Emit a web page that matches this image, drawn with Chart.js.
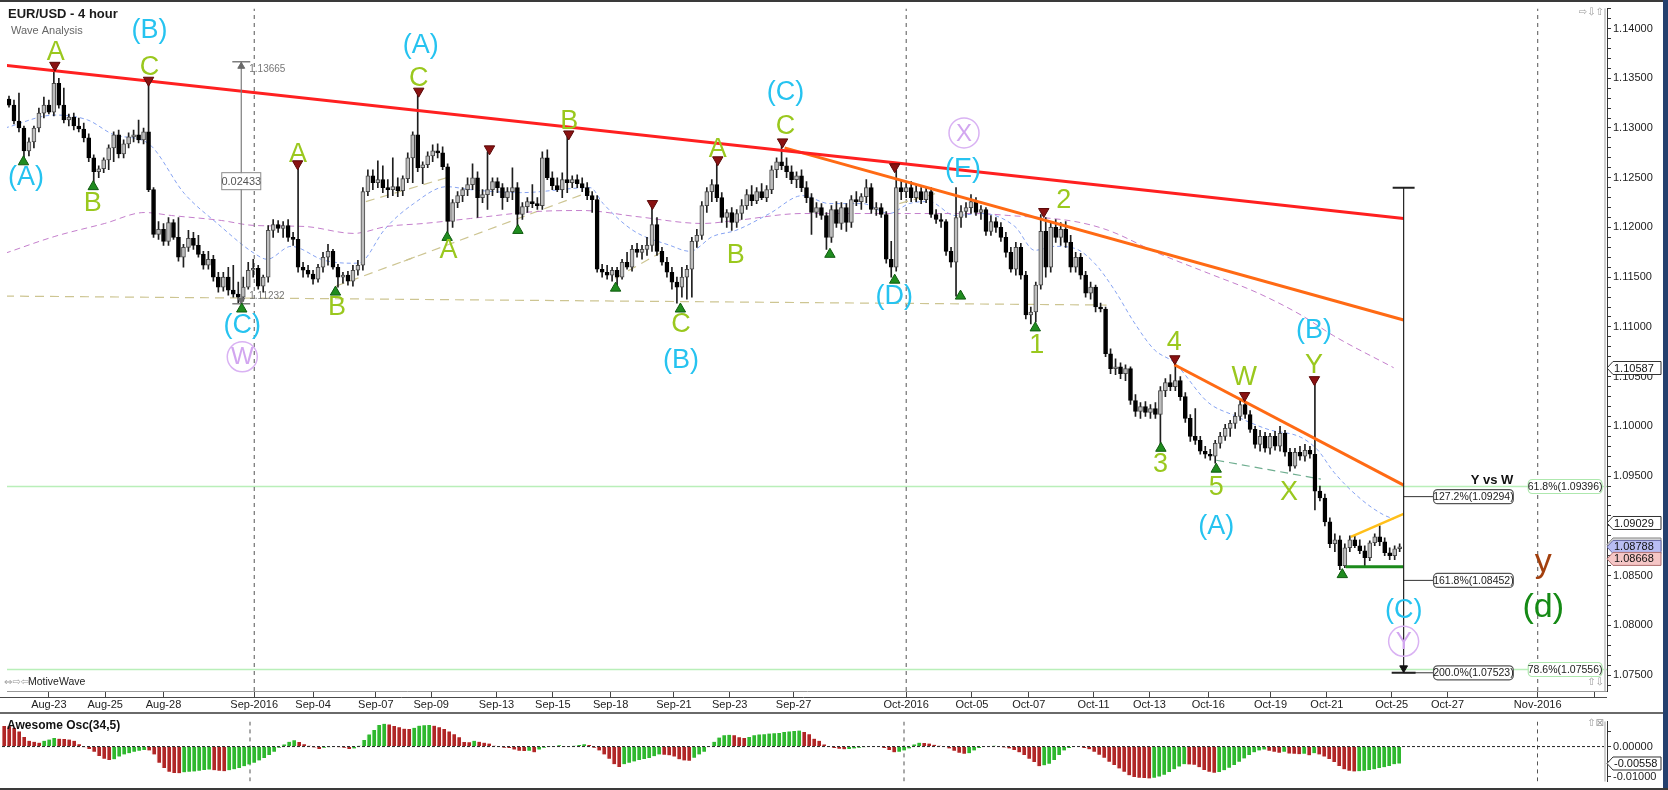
<!DOCTYPE html>
<html>
<head>
<meta charset="utf-8">
<title>EUR/USD - 4 hour</title>
<script src="https://cdn.jsdelivr.net/npm/chart.js@4.4.0/dist/chart.umd.min.js"></script>
<style>
  html, body { margin: 0; padding: 0; background: #fff; }
  #wrap { position: relative; width: 1668px; height: 790px; overflow: hidden; background: #fff; }
  #mainBox { position: absolute; left: 0; top: 0; width: 1668px; height: 713px; }
  #oscBox { position: absolute; left: 0; top: 713px; width: 1668px; height: 77px; }
  .edge { position: absolute; }
</style>
</head>
<body>
<div id="wrap">
  <div id="mainBox"><canvas id="main"></canvas></div>
  <div id="oscBox"><canvas id="osc"></canvas></div>
  <div class="edge" style="left:0;top:0;width:1668px;height:2px;background:#3a3a3a"></div>
  <div class="edge" style="left:1663px;top:0;width:5px;height:790px;background:#24406e"></div>
  <div class="edge" style="left:0;top:712px;width:1663px;height:2px;background:#6a6a6a"></div>
  <div class="edge" style="left:0;top:788px;width:1668px;height:2px;background:#3a3a3a"></div>
</div>
<script>
// ---------- x axis: 4-hour bars, 6 per trading day, bar 0 = Aug 22 ----------
const dateTickPos = [8.0, 19.3, 31.0, 49.2, 61.0, 73.6, 84.7, 97.8, 109.1, 120.7, 133.4, 144.6, 157.4,
  180.0, 193.2, 204.6, 217.6, 228.8, 240.6, 253.1, 264.4, 277.4, 288.6, 306.7, 318.1];
const dateTickLabels = ['Aug-23', 'Aug-25', 'Aug-28', 'Sep-2016', 'Sep-04', 'Sep-07', 'Sep-09', 'Sep-13', 'Sep-15',
  'Sep-18', 'Sep-21', 'Sep-23', 'Sep-27', 'Oct-2016', 'Oct-05', 'Oct-07', 'Oct-11', 'Oct-13', 'Oct-16', 'Oct-19',
  'Oct-21', 'Oct-25', 'Oct-27', 'Nov-2016', ''];
const monthLines = [49.2, 180.0, 306.7];

// ---------- EUR/USD candles [open, high, low, close], one row per day ----------
const ohlc = [
  [1.1329,1.1332,1.1321,1.1323],[1.1323,1.1328,1.1304,1.1307],[1.1307,1.1335,1.1296,1.1300],[1.1300,1.1302,1.1270,1.1277],[1.1277,1.1290,1.1272,1.1286],[1.1286,1.1302,1.1280,1.1300],
  [1.1300,1.1320,1.1296,1.1315],[1.1315,1.1331,1.1310,1.1323],[1.1323,1.1328,1.1314,1.1316],[1.1316,1.1358,1.1312,1.1345],[1.1345,1.1350,1.1320,1.1323],[1.1323,1.1340,1.1305,1.1308],
  [1.1308,1.1314,1.1302,1.1311],[1.1311,1.1315,1.1298,1.1302],[1.1302,1.1310,1.1296,1.1299],[1.1299,1.1305,1.1286,1.1290],[1.1290,1.1294,1.1266,1.1270],[1.1270,1.1273,1.1244,1.1256],
  [1.1256,1.1262,1.1250,1.1259],[1.1259,1.1270,1.1255,1.1268],[1.1268,1.1283,1.1258,1.1280],[1.1280,1.1296,1.1266,1.1293],[1.1293,1.1298,1.1270,1.1274],[1.1274,1.1288,1.1270,1.1284],
  [1.1284,1.1295,1.1280,1.1291],[1.1291,1.1298,1.1286,1.1293],[1.1293,1.1308,1.1285,1.1288],[1.1288,1.1300,1.1284,1.1296],[1.1296,1.1346,1.1236,1.1238],[1.1238,1.1240,1.1190,1.1193],
  [1.1193,1.1206,1.1188,1.1198],[1.1198,1.1204,1.1182,1.1186],[1.1186,1.1210,1.1182,1.1205],[1.1205,1.1208,1.1188,1.1190],[1.1190,1.1210,1.1166,1.1170],[1.1170,1.1183,1.1160,1.1180],
  [1.1180,1.1197,1.1176,1.1189],[1.1189,1.1195,1.1178,1.1182],[1.1182,1.1192,1.1170,1.1173],[1.1173,1.1176,1.1158,1.1162],[1.1162,1.1176,1.1158,1.1168],[1.1168,1.1172,1.1146,1.1150],
  [1.1150,1.1155,1.1135,1.1140],[1.1140,1.1155,1.1136,1.1150],[1.1150,1.1160,1.1132,1.1137],[1.1137,1.1162,1.1130,1.1133],[1.1133,1.1145,1.1124,1.1130],[1.1130,1.1150,1.1126,1.1140],
  [1.1140,1.1165,1.1138,1.1157],[1.1157,1.1168,1.1150,1.1159],[1.1159,1.1162,1.1138,1.1141],[1.1141,1.1152,1.1135,1.1150],[1.1150,1.1202,1.1145,1.1197],[1.1197,1.1208,1.1190,1.1203],
  [1.1203,1.1207,1.1195,1.1199],[1.1199,1.1206,1.1190,1.1202],[1.1202,1.1208,1.1186,1.1190],[1.1190,1.1195,1.1182,1.1188],[1.1188,1.1260,1.1155,1.1160],[1.1160,1.1165,1.1150,1.1157],
  [1.1157,1.1162,1.1150,1.1153],[1.1153,1.1157,1.1143,1.1148],[1.1148,1.1163,1.1145,1.1160],[1.1160,1.1175,1.1155,1.1170],[1.1170,1.1183,1.1162,1.1176],[1.1176,1.1178,1.1158,1.1160],
  [1.1160,1.1163,1.1140,1.1150],[1.1150,1.1155,1.1144,1.1152],[1.1152,1.1156,1.1142,1.1146],[1.1146,1.1162,1.1141,1.1157],[1.1157,1.1167,1.1152,1.1162],[1.1162,1.1240,1.1157,1.1236],
  [1.1236,1.1258,1.1232,1.1252],[1.1252,1.1258,1.1238,1.1245],[1.1245,1.1267,1.1240,1.1248],[1.1248,1.1262,1.1235,1.1240],[1.1240,1.1248,1.1230,1.1238],[1.1238,1.1270,1.1232,1.1241],
  [1.1241,1.1250,1.1231,1.1237],[1.1237,1.1252,1.1232,1.1249],[1.1249,1.1275,1.1245,1.1270],[1.1270,1.1296,1.1245,1.1293],[1.1293,1.1333,1.1256,1.1260],[1.1260,1.1266,1.1244,1.1263],
  [1.1263,1.1276,1.1260,1.1272],[1.1272,1.1283,1.1266,1.1277],[1.1277,1.1284,1.1270,1.1275],[1.1275,1.1281,1.1258,1.1261],[1.1261,1.1264,1.1193,1.1206],[1.1206,1.1228,1.1200,1.1225],
  [1.1225,1.1236,1.1220,1.1232],[1.1232,1.1240,1.1226,1.1238],[1.1238,1.1250,1.1232,1.1243],[1.1243,1.1264,1.1238,1.1250],[1.1250,1.1256,1.1210,1.1230],[1.1230,1.1238,1.1225,1.1233],
  [1.1233,1.1276,1.1218,1.1238],[1.1238,1.1250,1.1232,1.1246],[1.1246,1.1250,1.1235,1.1240],[1.1240,1.1244,1.1218,1.1230],[1.1230,1.1240,1.1226,1.1236],[1.1236,1.1260,1.1228,1.1240],
  [1.1240,1.1245,1.1200,1.1213],[1.1213,1.1225,1.1208,1.1221],[1.1221,1.1230,1.1215,1.1226],[1.1226,1.1243,1.1220,1.1224],[1.1224,1.1230,1.1218,1.1222],[1.1222,1.1276,1.1218,1.1270],
  [1.1270,1.1278,1.1248,1.1250],[1.1250,1.1256,1.1238,1.1242],[1.1242,1.1250,1.1236,1.1238],[1.1238,1.1255,1.1230,1.1248],[1.1248,1.1291,1.1235,1.1245],[1.1245,1.1252,1.1240,1.1248],
  [1.1248,1.1253,1.1240,1.1244],[1.1244,1.1250,1.1236,1.1240],[1.1240,1.1245,1.1228,1.1232],[1.1232,1.1236,1.1215,1.1228],[1.1228,1.1232,1.1155,1.1158],[1.1158,1.1163,1.1150,1.1155],
  [1.1155,1.1162,1.1148,1.1152],[1.1152,1.1160,1.1146,1.1157],[1.1157,1.1160,1.1142,1.1150],[1.1150,1.1168,1.1148,1.1165],[1.1165,1.1175,1.1158,1.1160],[1.1160,1.1182,1.1156,1.1178],
  [1.1178,1.1184,1.1170,1.1175],[1.1175,1.1182,1.1168,1.1178],[1.1178,1.1190,1.1172,1.1182],[1.1182,1.1221,1.1176,1.1203],[1.1203,1.1210,1.1172,1.1176],[1.1176,1.1180,1.1162,1.1165],
  [1.1165,1.1170,1.1150,1.1155],[1.1155,1.1160,1.1138,1.1145],[1.1145,1.1150,1.1124,1.1140],[1.1140,1.1160,1.1130,1.1150],[1.1150,1.1162,1.1128,1.1158],[1.1158,1.1190,1.1130,1.1186],
  [1.1186,1.1198,1.1180,1.1192],[1.1192,1.1226,1.1188,1.1222],[1.1222,1.1240,1.1215,1.1236],[1.1236,1.1248,1.1226,1.1243],[1.1243,1.1265,1.1226,1.1230],[1.1230,1.1235,1.1205,1.1210],
  [1.1210,1.1218,1.1200,1.1215],[1.1215,1.1220,1.1197,1.1205],[1.1205,1.1218,1.1200,1.1214],[1.1214,1.1228,1.1208,1.1222],[1.1222,1.1238,1.1218,1.1233],[1.1233,1.1242,1.1222,1.1227],
  [1.1227,1.1240,1.1224,1.1236],[1.1236,1.1244,1.1228,1.1230],[1.1230,1.1242,1.1226,1.1238],[1.1238,1.1262,1.1234,1.1258],[1.1258,1.1270,1.1250,1.1266],[1.1266,1.1283,1.1258,1.1262],
  [1.1262,1.1270,1.1250,1.1256],[1.1256,1.1262,1.1244,1.1248],[1.1248,1.1256,1.1240,1.1252],[1.1252,1.1258,1.1236,1.1240],[1.1240,1.1246,1.1225,1.1230],[1.1230,1.1234,1.1193,1.1215],
  [1.1215,1.1225,1.1210,1.1220],[1.1220,1.1224,1.1208,1.1212],[1.1212,1.1215,1.1178,1.1190],[1.1190,1.1222,1.1185,1.1218],[1.1218,1.1226,1.1200,1.1204],[1.1204,1.1225,1.1198,1.1220],
  [1.1220,1.1224,1.1196,1.1205],[1.1205,1.1232,1.1200,1.1228],[1.1228,1.1236,1.1222,1.1226],[1.1226,1.1234,1.1218,1.1231],[1.1231,1.1248,1.1225,1.1240],[1.1240,1.1244,1.1214,1.1218],
  [1.1218,1.1225,1.1212,1.1220],[1.1220,1.1224,1.1210,1.1213],[1.1213,1.1216,1.1164,1.1168],[1.1168,1.1186,1.1150,1.1160],[1.1160,1.1258,1.1156,1.1240],[1.1240,1.1248,1.1228,1.1236],
  [1.1236,1.1244,1.1230,1.1240],[1.1240,1.1246,1.1226,1.1230],[1.1230,1.1242,1.1226,1.1236],[1.1236,1.1240,1.1224,1.1228],[1.1228,1.1240,1.1225,1.1236],[1.1236,1.1240,1.1210,1.1213],
  [1.1213,1.1218,1.1204,1.1208],[1.1208,1.1214,1.1200,1.1206],[1.1206,1.1208,1.1172,1.1176],[1.1176,1.1180,1.1160,1.1165],[1.1165,1.1240,1.1131,1.1210],[1.1210,1.1222,1.1200,1.1216],
  [1.1216,1.1225,1.1210,1.1220],[1.1220,1.1233,1.1214,1.1226],[1.1226,1.1230,1.1212,1.1215],[1.1215,1.1222,1.1208,1.1218],[1.1218,1.1220,1.1192,1.1196],[1.1196,1.1212,1.1192,1.1206],
  [1.1206,1.1210,1.1195,1.1200],[1.1200,1.1205,1.1186,1.1190],[1.1190,1.1195,1.1170,1.1175],[1.1175,1.1180,1.1155,1.1158],[1.1158,1.1185,1.1152,1.1180],[1.1180,1.1184,1.1148,1.1152],
  [1.1152,1.1156,1.1108,1.1112],[1.1112,1.1120,1.1103,1.1115],[1.1115,1.1145,1.1105,1.1142],[1.1142,1.1213,1.1138,1.1196],[1.1196,1.1210,1.1150,1.1160],[1.1160,1.1205,1.1155,1.1200],
  [1.1200,1.1208,1.1185,1.1190],[1.1190,1.1205,1.1182,1.1198],[1.1198,1.1206,1.1180,1.1185],[1.1185,1.1192,1.1155,1.1160],[1.1160,1.1175,1.1155,1.1170],[1.1170,1.1174,1.1148,1.1152],
  [1.1152,1.1156,1.1130,1.1134],[1.1134,1.1145,1.1128,1.1140],[1.1140,1.1142,1.1115,1.1120],[1.1120,1.1124,1.1115,1.1118],[1.1118,1.1120,1.1070,1.1073],[1.1073,1.1078,1.1053,1.1058],
  [1.1058,1.1068,1.1052,1.1060],[1.1060,1.1064,1.1048,1.1053],[1.1053,1.1062,1.1046,1.1058],[1.1058,1.1060,1.1022,1.1026],[1.1026,1.1032,1.1010,1.1015],[1.1015,1.1024,1.1008,1.1020],
  [1.1020,1.1025,1.1010,1.1014],[1.1014,1.1022,1.1008,1.1018],[1.1018,1.1024,1.1008,1.1012],[1.1012,1.1040,1.0980,1.1036],[1.1036,1.1048,1.1030,1.1044],[1.1044,1.1052,1.1036,1.1040],
  [1.1040,1.1065,1.1036,1.1046],[1.1046,1.1050,1.1026,1.1030],[1.1030,1.1034,1.1004,1.1008],[1.1008,1.1012,1.0985,1.0990],[1.0990,1.1018,1.0982,1.0986],[1.0986,1.0990,1.0972,1.0975],
  [1.0975,1.0980,1.0968,1.0972],[1.0972,1.0977,1.0966,1.0970],[1.0970,1.0986,1.0963,1.0983],[1.0983,1.0994,1.0978,1.0990],[1.0990,1.1002,1.0986,1.0998],[1.0998,1.1006,1.0990,1.1003],
  [1.1003,1.1014,1.0998,1.1010],[1.1010,1.1027,1.1006,1.1022],[1.1022,1.1026,1.1008,1.1012],[1.1012,1.1016,1.0994,1.0997],[1.0997,1.1000,1.0978,1.0982],[1.0982,1.0996,1.0975,1.0990],
  [1.0990,1.0994,1.0974,1.0978],[1.0978,1.0993,1.0972,1.0990],[1.0990,1.0995,1.0976,1.0980],[1.0980,1.1000,1.0975,1.0993],[1.0993,1.0996,1.0970,1.0974],[1.0974,1.0978,1.0955,1.0960],
  [1.0960,1.0978,1.0958,1.0974],[1.0974,1.0980,1.0966,1.0970],[1.0970,1.0982,1.0965,1.0976],[1.0976,1.0980,1.0968,1.0972],[1.0972,1.1044,1.0916,1.0935],[1.0935,1.0940,1.0925,1.0928],
  [1.0928,1.0932,1.0900,1.0904],[1.0904,1.0908,1.0878,1.0882],[1.0882,1.0892,1.0874,1.0886],[1.0886,1.0890,1.0856,1.0860],[1.0860,1.0882,1.0858,1.0878],[1.0878,1.0890,1.0874,1.0886],
  [1.0886,1.0890,1.0878,1.0880],[1.0880,1.0886,1.0872,1.0875],[1.0875,1.0880,1.0858,1.0868],[1.0868,1.0885,1.0865,1.0883],[1.0883,1.0892,1.0880,1.0889],[1.0889,1.0900,1.0880,1.0884],
  [1.0884,1.0888,1.0870,1.0873],[1.0873,1.0878,1.0866,1.0870],[1.0870,1.0880,1.0866,1.0877],[1.0877,1.0882,1.0874,1.0879]
];

// ---------- Awesome Oscillator (34,5), one value per bar ----------
const aoValues = [
  0.0068,0.0067,0.0062,0.0050,0.0032,0.0019,0.0016,0.0013,0.0019,0.0023,0.0028,0.0026,0.0025,0.0023,0.0019,0.0008,
  -0.0002,-0.0008,-0.0017,-0.0031,-0.0040,-0.0044,-0.0042,-0.0033,-0.0026,-0.0022,-0.0017,-0.0014,-0.0011,-0.0013,-0.0026,-0.0053,
  -0.0071,-0.0083,-0.0087,-0.0088,-0.0085,-0.0083,-0.0082,-0.0080,-0.0077,-0.0076,-0.0078,-0.0080,-0.0081,-0.0078,-0.0075,-0.0071,
  -0.0065,-0.0059,-0.0053,-0.0046,-0.0038,-0.0028,-0.0017,-0.0004,0.0007,0.0016,0.0021,0.0015,0.0008,0.0003,-0.0003,-0.0008,
  -0.0004,-0.0002,-0.0001,-0.0002,-0.0004,-0.0008,-0.0006,0.0003,0.0022,0.0040,0.0055,0.0071,0.0075,0.0073,0.0068,0.0064,
  0.0059,0.0058,0.0062,0.0069,0.0070,0.0071,0.0069,0.0064,0.0058,0.0050,0.0041,0.0031,0.0015,0.0014,0.0019,0.0016,
  0.0013,0.0010,0.0003,-0.0001,-0.0004,-0.0005,-0.0010,-0.0014,-0.0015,-0.0014,-0.0019,-0.0010,-0.0004,0.0001,0.0002,0.0004,
  0.0001,0.0000,0.0003,0.0005,0.0008,0.0005,-0.0004,-0.0013,-0.0026,-0.0040,-0.0058,-0.0067,-0.0058,-0.0053,-0.0049,-0.0044,
  -0.0041,-0.0038,-0.0032,-0.0026,-0.0027,-0.0029,-0.0033,-0.0042,-0.0046,-0.0047,-0.0037,-0.0026,-0.0017,-0.0001,0.0016,0.0030,
  0.0037,0.0039,0.0037,0.0031,0.0028,0.0032,0.0037,0.0040,0.0041,0.0043,0.0044,0.0045,0.0048,0.0050,0.0051,0.0053,
  0.0048,0.0041,0.0026,0.0019,0.0007,-0.0001,-0.0005,-0.0007,-0.0009,-0.0008,-0.0006,-0.0004,-0.0002,-0.0001,0.0000,-0.0001,
  -0.0005,-0.0011,-0.0019,-0.0017,-0.0013,-0.0006,0.0007,0.0013,0.0012,0.0010,0.0006,0.0003,-0.0001,-0.0006,-0.0014,-0.0020,
  -0.0024,-0.0022,-0.0013,-0.0005,-0.0001,0.0002,0.0003,-0.0001,-0.0003,-0.0006,-0.0011,-0.0019,-0.0028,-0.0040,-0.0051,-0.0065,
  -0.0062,-0.0057,-0.0044,-0.0028,-0.0013,-0.0005,0.0002,-0.0001,-0.0005,-0.0009,-0.0017,-0.0027,-0.0037,-0.0050,-0.0061,-0.0072,
  -0.0083,-0.0095,-0.0100,-0.0103,-0.0104,-0.0105,-0.0103,-0.0099,-0.0093,-0.0084,-0.0075,-0.0066,-0.0058,-0.0059,-0.0060,-0.0068,
  -0.0077,-0.0083,-0.0086,-0.0084,-0.0078,-0.0070,-0.0061,-0.0050,-0.0039,-0.0028,-0.0019,-0.0013,-0.0010,-0.0014,-0.0017,-0.0020,
  -0.0017,-0.0023,-0.0024,-0.0025,-0.0024,-0.0029,-0.0022,-0.0026,-0.0033,-0.0041,-0.0051,-0.0064,-0.0075,-0.0080,-0.0082,-0.0081,
  -0.0080,-0.0077,-0.0075,-0.0071,-0.0068,-0.0064,-0.0058,-0.0056
];

// ---------- moving averages [bar, price] ----------
const fastMA = [[-0.8,1.1300],[9.2,1.1313],[15.8,1.1308],[21.2,1.1293],[27.8,1.1285],[35.2,1.1234],[41.8,1.1204],
  [49.2,1.1174],[51.8,1.1168],[56.6,1.1181],[63.2,1.1167],[69.2,1.1164],[71.2,1.1167],[75.2,1.1197],[81.2,1.1224],
  [87.8,1.1241],[92.6,1.1238],[102.6,1.1235],[116.6,1.1240],[119.2,1.1224],[125.2,1.1197],[132.6,1.1182],[136.6,1.1176],
  [141.2,1.1191],[145.8,1.1197],[152.6,1.1214],[159.2,1.1232],[164.6,1.1224],[171.2,1.1224],[176.6,1.1214],[180.6,1.1224],
  [184.6,1.1226],[189.8,1.1212],[195.2,1.1214],[201.8,1.1201],[205.8,1.1177],[209.8,1.1181],[213.8,1.1179],[217.8,1.1164],
  [221.8,1.1137],[225.8,1.1104],[229.8,1.1077],[233.8,1.1064],[240.6,1.1024],[245.8,1.1011],[252.6,1.0997],[259.2,1.0989],
  [262.6,1.0976],[265.8,1.0954],[271.2,1.0927],[275.8,1.0911],[277.8,1.0907]];
const slowMA = [[-0.8,1.1174],[9.2,1.1191],[19.2,1.1204],[27.2,1.1215],[32.6,1.1212],[42.6,1.1207],[49.2,1.1202],
  [59.2,1.1201],[69.2,1.1194],[75.8,1.1201],[83.2,1.1204],[92.6,1.1209],[105.8,1.1216],[115.2,1.1217],[125.8,1.1211],
  [139.2,1.1204],[145.8,1.1207],[159.2,1.1214],[171.2,1.1214],[180.6,1.1214],[193.8,1.1214],[200.6,1.1212],[213.8,1.1206],
  [220.6,1.1197],[230.6,1.1174],[240.6,1.1154],[250.6,1.1134],[259.2,1.1112],[265.8,1.1091],[277.8,1.1059]];

// ---------- drawn trend lines [bar, price] ----------
const redTrend = [[-0.8,1.1363],[279.8,1.1209]];
const orangeUpper = [[155.6,1.1280],[279.8,1.1107]];
const orangeLower = [[233.8,1.1062],[279.8,1.0941]];
const yellowTrend = [[269.2,1.0889],[279.8,1.0912]];
const greenBase = [[268.2,1.0859],[279.8,1.0859]];
const tealLine = [[242.2,1.0966],[263.2,1.0947]];
const tanBase = [[-0.8,1.1131],[220.2,1.1122]];
const tanChannels = [
  [[65.6,1.1141],[81.8,1.1171]],
  [[71.6,1.1226],[87.8,1.1250]],
  [[79.2,1.1166],[116.6,1.1236]],
  [[121.6,1.1149],[131.2,1.1176]],
  [[178.6,1.1224],[185.8,1.1234]]
];
const retraceLevels = [1.09396, 1.07556];
const extensionLevels = [1.09294, 1.08452, 1.07523];
const leftMeasure = { bar: 46.6, top: 1.13665, bottom: 1.11232 };
const rightMeasure = { bar: 279.8, top: 1.1240, bottom: 1.07523 };

// ---------- swing markers [bar, price] ----------
const swingHighs = [[9.2,1.1363],[28,1.1348],[57.9,1.1264],[82.2,1.1337],[96.4,1.1279],[112.3,1.1294],[129.1,1.1224],
  [142.2,1.1268],[155.2,1.1286],[177.7,1.1261],[207.6,1.1216],[233.9,1.1068],[247.9,1.1031],[261.9,1.1047]];
const swingLows = [[2.9,1.1266],[16.9,1.1241],[46.7,1.1118],[65.5,1.1135],[87.9,1.1190],[102.1,1.1197],[121.7,1.1139],
  [134.7,1.1118],[164.7,1.1173],[177.7,1.1147],[190.9,1.1131],[205.9,1.1099],[231.1,1.0978],[242.2,1.0957],[267.5,1.0851]];

// ---------- wave labels [text, bar, price, kind] ----------
const waveLabels = [
  ['(B)',28.2,1.1398,'major'],['A',9.4,1.1376,'minor'],['C',28.2,1.1361,'minor'],['(A)',3.4,1.1250,'major'],
  ['B',16.8,1.1224,'minor'],['A',58,1.1273,'minor'],['(C)',46.8,1.1101,'major'],['B',65.8,1.1119,'minor'],
  ['(A)',82.6,1.1383,'major'],['C',82.2,1.1350,'minor'],['A',88.2,1.1177,'minor'],['B',112.4,1.1306,'minor'],
  ['(C)',155.8,1.1336,'major'],['C',155.8,1.1301,'minor'],['A',142.2,1.1278,'minor'],['B',145.8,1.1172,'minor'],
  ['C',134.8,1.1102,'minor'],['(B)',134.8,1.1066,'major'],['(E)',191.4,1.1258,'major'],['(D)',177.6,1.1131,'major'],
  ['2',211.6,1.1227,'minor'],['1',206.2,1.1081,'minor'],['4',233.8,1.1084,'minor'],['W',247.8,1.1049,'minor'],
  ['(B)',261.8,1.1096,'major'],['Y',261.8,1.1061,'minor'],['3',231,1.0962,'minor'],['5',242.2,1.0939,'minor'],
  ['X',256.8,1.0934,'minor'],['(A)',242.2,1.0899,'major'],['(C)',279.8,1.0815,'major'],
  ['y',307.8,1.0863,'cycle'],['(d)',307.8,1.0818,'primary']
];
const circledLabels = [['W',46.8,1.1070],['X',191.6,1.1295],['Y',279.8,1.0784]];

// ---------- fib boxes [text, barLeft, barRight, price, kind] ----------
const fibBoxes = [
  ['127.2%(1.09294)',285.8,301.8,1.09294,'ext'],
  ['161.8%(1.08452)',285.8,301.8,1.08452,'ext'],
  ['200.0%(1.07523)',285.8,301.8,1.07523,'ext'],
  ['61.8%(1.09396)',304.8,319.6,1.09396,'ret'],
  ['78.6%(1.07556)',304.8,319.6,1.07556,'ret']
];
const axisTags = [[1.10587,'1.10587','plain'],[1.09029,'1.09029','plain'],[1.08813,'1.08813','grey'],
  [1.08788,'1.08788','bid'],[1.08668,'1.08668','ask']];
const oscTag = [-0.00558, '-0.00558'];

// ---------- styling ----------
const X_MIN = -0.4, X_MAX = 320.6;
const Y_MIN = 1.0734, Y_MAX = 1.1420;
const OSC_MIN = -0.01149, OSC_MAX = 0.00824;
const FONT = '"Liberation Sans", Arial, sans-serif';
const WAVE_COLORS = { minor: '#9ac81e', major: '#26c3f0', cycle: '#a3400e', primary: '#158a15' };
const TAG_STYLE = {
  plain: ['#ffffff', '#333333'], grey: ['#d8d8d8', '#888888'],
  bid: ['#b9bdf3', '#6a6ca8'], ask: ['#f5c6c6', '#b07070']
};

Chart.defaults.font.family = FONT;

const pts = arr => arr.map(([x, y]) => ({ x, y }));
function lineSet(points, color, width, dash, order) {
  return { type: 'line', data: pts(points), borderColor: color, borderWidth: width, borderDash: dash || [],
    pointRadius: 0, tension: 0, fill: false, order: order, clip: 0 };
}
function markerSet(points, fill, edge, rotation, radius, order) {
  return { type: 'line', data: pts(points), showLine: false, pointStyle: 'triangle', pointRotation: rotation,
    pointRadius: radius, pointBackgroundColor: fill, pointBorderColor: edge, pointBorderWidth: 1, order: order };
}

const wickData = ohlc.map((r, i) => ({ x: i, y: [r[2], r[1]] }));
const bodyData = ohlc.map((r, i) => ({ x: i, y: [Math.min(r[0], r[3]), Math.max(r[0], r[3])] }));
const bodyFill = ohlc.map(r => r[3] >= r[0] ? '#bdbdbd' : '#000000');
const bodyEdge = ohlc.map(r => r[3] >= r[0] ? '#4a4a4a' : '#000000');

const mainSets = [];
retraceLevels.forEach(p => mainSets.push(lineSet([[X_MIN, p], [X_MAX, p]], '#b9efb9', 1.5, null, 20)));
monthLines.forEach(b => mainSets.push(lineSet([[b, Y_MIN], [b, Y_MAX]], '#555555', 1, [4, 4], 19)));
mainSets.push(lineSet(tanBase, '#cdc592', 1.2, [9, 6], 18));
tanChannels.forEach(seg => mainSets.push(lineSet(seg, '#cdc592', 1.2, [9, 6], 18)));
mainSets.push(lineSet(tealLine, '#6fae90', 1.2, [8, 5], 18));
mainSets.push(Object.assign(lineSet(slowMA, '#c47fcc', 1, [6, 4], 17), { tension: 0.4, cubicInterpolationMode: 'monotone' }));
mainSets.push(Object.assign(lineSet(fastMA, '#86a3f2', 1, [4, 3], 17), { tension: 0.4, cubicInterpolationMode: 'monotone' }));
mainSets.push({ type: 'bar', data: wickData, backgroundColor: '#1e1e1e', barThickness: 1, grouped: false, order: 10 });
mainSets.push({ type: 'bar', data: bodyData, backgroundColor: bodyFill, borderColor: bodyEdge, borderWidth: 1,
  borderSkipped: false, barThickness: 4, minBarLength: 1, grouped: false, order: 9 });
mainSets.push(lineSet(redTrend, '#ff2020', 3, null, 5));
mainSets.push(lineSet(orangeUpper, '#ff6a14', 3, null, 5));
mainSets.push(lineSet(orangeLower, '#ff6a14', 3, null, 5));
mainSets.push(lineSet(yellowTrend, '#ffbf1a', 2.5, null, 5));
mainSets.push(lineSet(greenBase, '#1b8a1b', 3, null, 5));
// measurement tools
mainSets.push(lineSet([[leftMeasure.bar, leftMeasure.top], [leftMeasure.bar, leftMeasure.bottom]], '#7d7d7d', 1.2, null, 4));
mainSets.push(lineSet([[leftMeasure.bar - 1.8, leftMeasure.top], [leftMeasure.bar + 1.8, leftMeasure.top]], '#7d7d7d', 1.5, null, 4));
mainSets.push(lineSet([[leftMeasure.bar - 1.8, leftMeasure.bottom], [leftMeasure.bar + 1.8, leftMeasure.bottom]], '#7d7d7d', 1.5, null, 4));
mainSets.push(markerSet([[leftMeasure.bar, 1.1362]], '#6a6a6a', '#6a6a6a', 0, 4, 3));
mainSets.push(markerSet([[leftMeasure.bar, 1.1127]], '#6a6a6a', '#6a6a6a', 180, 4, 3));
mainSets.push(lineSet([[rightMeasure.bar, rightMeasure.top], [rightMeasure.bar, rightMeasure.bottom]], '#222222', 1.2, null, 4));
mainSets.push(lineSet([[rightMeasure.bar - 2.2, rightMeasure.top], [rightMeasure.bar + 2.2, rightMeasure.top]], '#222222', 2, null, 4));
mainSets.push(lineSet([[rightMeasure.bar - 2.4, rightMeasure.bottom], [rightMeasure.bar + 2.4, rightMeasure.bottom]], '#222222', 2, null, 4));
mainSets.push(markerSet([[rightMeasure.bar, 1.0757]], '#111111', '#111111', 180, 4.5, 3));
extensionLevels.forEach(p => mainSets.push(lineSet([[rightMeasure.bar, p], [285.8, p]], '#333333', 1, null, 4)));
mainSets.push(markerSet(swingHighs, '#8a1212', '#5a0808', 180, 6, 2));
mainSets.push(markerSet(swingLows, '#1f8c1f', '#0f5a0f', 0, 6, 2));

function roundBox(ctx, x, y, w, h, r) {
  ctx.beginPath();
  if (ctx.roundRect) ctx.roundRect(x, y, w, h, r); else ctx.rect(x, y, w, h);
}
function drawTag(ctx, left, yPix, text, fill, edge) {
  const h = 13, x0 = left + 6, x1 = left + 54;
  ctx.beginPath();
  ctx.moveTo(left, yPix);
  ctx.lineTo(x0, yPix - h / 2); ctx.lineTo(x1, yPix - h / 2);
  ctx.lineTo(x1, yPix + h / 2); ctx.lineTo(x0, yPix + h / 2);
  ctx.closePath();
  ctx.fillStyle = fill; ctx.fill();
  ctx.strokeStyle = edge; ctx.lineWidth = 1; ctx.stroke();
  ctx.fillStyle = '#111'; ctx.font = '11px ' + FONT;
  ctx.textAlign = 'left'; ctx.textBaseline = 'middle';
  ctx.fillText(text, x0 + 1, yPix + 0.5);
}

const mainOverlay = {
  id: 'mainOverlay',
  afterDatasetsDraw(chart) {
    const { ctx, chartArea, scales: { x, y } } = chart;
    const px = b => x.getPixelForValue(b), py = p => y.getPixelForValue(p);
    ctx.save();
    ctx.textAlign = 'center'; ctx.textBaseline = 'middle';
    // circled wave labels
    circledLabels.forEach(([t, b, p]) => {
      ctx.beginPath(); ctx.arc(px(b), py(p), 15, 0, Math.PI * 2);
      ctx.strokeStyle = '#d9b2f3'; ctx.lineWidth = 1.5; ctx.stroke();
      ctx.fillStyle = '#d2a6f0'; ctx.font = '24px ' + FONT;
      ctx.fillText(t, px(b), py(p) + 1);
    });
    // wave labels
    waveLabels.forEach(([t, b, p, k]) => {
      ctx.fillStyle = WAVE_COLORS[k];
      ctx.font = (k === 'cycle' || k === 'primary' ? '34px ' : '27px ') + FONT;
      ctx.fillText(t, px(b), py(p));
    });
    // fib boxes
    fibBoxes.forEach(([t, b0, b1, p, k]) => {
      const x0 = px(b0), x1 = px(b1), yc = py(p);
      roundBox(ctx, x0, yc - 7, x1 - x0, 14, 4);
      ctx.fillStyle = '#ffffff'; ctx.fill();
      ctx.strokeStyle = k === 'ret' ? '#aee8ae' : '#555555'; ctx.lineWidth = 1.2; ctx.stroke();
      ctx.fillStyle = '#222'; ctx.font = '10.5px ' + FONT;
      ctx.fillText(t, (x0 + x1) / 2, yc + 0.5);
    });
    ctx.font = 'bold 13px ' + FONT; ctx.fillStyle = '#111'; ctx.textAlign = 'right';
    ctx.fillText('Y vs W', px(301.8), py(1.0946));
    // left measurement box and prices
    ctx.textAlign = 'center';
    const mx = px(leftMeasure.bar), my = py(1.12465);
    ctx.fillStyle = '#fff'; ctx.fillRect(mx - 19, my - 8, 38, 16);
    ctx.strokeStyle = '#8a8a8a'; ctx.lineWidth = 1; ctx.strokeRect(mx - 19.5, my - 8.5, 39, 17);
    ctx.fillStyle = '#555'; ctx.font = '11px ' + FONT; ctx.fillText('0.02433', mx, my + 0.5);
    ctx.textAlign = 'left'; ctx.font = '10px ' + FONT; ctx.fillStyle = '#777';
    ctx.fillText('1.13665', px(48.2), py(1.1359));
    ctx.fillText('1.11232', px(48.2), py(1.1131));
    // chrome: titles and icons
    ctx.fillStyle = '#1a1a1a'; ctx.font = 'bold 13px ' + FONT;
    ctx.fillText('EUR/USD - 4 hour', 8, 14);
    ctx.fillStyle = '#666'; ctx.font = '11px ' + FONT;
    ctx.fillText('Wave Analysis', 11, 31);
    ctx.fillStyle = '#222'; ctx.font = '10.5px ' + FONT;
    ctx.fillText('MotiveWave', 28, chartArea.bottom - 9);
    ctx.fillStyle = '#999'; ctx.font = '10px "DejaVu Sans"';
    ctx.fillText('\u21D4\u21E8\u21E6', 4, chartArea.bottom - 9);
    ctx.textAlign = 'right';
    ctx.fillText('\u21E8\u21E9\u21E7', chartArea.right - 3, 12);
    ctx.fillText('\u21E7\u21E9', chartArea.right - 3, chartArea.bottom - 9);
    ctx.restore();
  },
  afterDraw(chart) {
    const { ctx, chartArea, scales: { y } } = chart;
    ctx.save();
    // double rule under the plot
    ctx.strokeStyle = '#4a4a4a'; ctx.lineWidth = 1;
    ctx.beginPath(); ctx.moveTo(0, chartArea.bottom + 6.5); ctx.lineTo(chartArea.right, chartArea.bottom + 6.5); ctx.stroke();
    ctx.strokeStyle = '#cfcfcf'; ctx.lineWidth = 2;
    ctx.beginPath(); ctx.moveTo(chartArea.right - 2, chartArea.top); ctx.lineTo(chartArea.right - 2, chartArea.bottom); ctx.stroke();
    axisTags.forEach(([p, t, k]) => drawTag(ctx, chartArea.right, y.getPixelForValue(p), t, TAG_STYLE[k][0], TAG_STYLE[k][1]));
    ctx.restore();
  }
};

new Chart(document.getElementById('main'), {
  type: 'bar',
  data: { datasets: mainSets },
  options: {
    responsive: true, maintainAspectRatio: false, animation: false,
    layout: { padding: { left: 2, top: 3, right: 5, bottom: 0 } },
    plugins: { legend: { display: false }, tooltip: { enabled: false } },
    scales: {
      x: {
        type: 'linear', min: X_MIN, max: X_MAX, offset: false,
        afterBuildTicks: s => { s.ticks = dateTickPos.map(v => ({ value: v })); },
        afterFit: s => { s.height = 22; },
        grid: { drawOnChartArea: false, drawTicks: true, tickLength: 6, color: '#444', offset: false },
        border: { display: true, color: '#9a9a9a' },
        ticks: { autoSkip: false, maxRotation: 0, padding: 1, color: '#222', font: { size: 11 },
          callback: (v, i) => dateTickLabels[i] }
      },
      y: {
        type: 'linear', position: 'right', min: Y_MIN, max: Y_MAX,
        afterBuildTicks: s => { const t = []; for (let k = 1074; k <= 1142; k++) t.push({ value: k / 1000 }); s.ticks = t; },
        afterFit: s => { s.width = 56; },
        grid: { drawOnChartArea: false, drawTicks: true, tickLength: 4, color: '#333' },
        border: { display: true, color: '#333', width: 1 },
        ticks: { autoSkip: false, padding: 2, color: '#222', font: { size: 11 },
          callback: v => (Math.round(v * 1000) % 5 === 0 ? v.toFixed(5) : '') }
      }
    }
  },
  plugins: [mainOverlay]
});

// ---------- oscillator panel ----------
const aoData = aoValues.map((v, i) => ({ x: i, y: v }));
const aoFill = aoValues.map((v, i) => (i > 0 && v > aoValues[i - 1]) ? '#2fb82f' : '#b02626');
const aoEdge = aoValues.map((v, i) => (i > 0 && v > aoValues[i - 1]) ? '#9be39b' : '#e6a3a3');

const oscSets = [];
monthLines.forEach(b => oscSets.push(lineSet([[b, OSC_MIN], [b, OSC_MAX]], '#555555', 1, [4, 4], 9)));
oscSets.push({ type: 'bar', data: aoData, backgroundColor: aoFill, borderColor: aoEdge, borderWidth: { left: 1, right: 0, top: 0, bottom: 0 },
  borderSkipped: false, barThickness: 4, grouped: false, order: 5 });
oscSets.push(lineSet([[X_MIN, 0], [X_MAX, 0]], '#222222', 1, [3, 2], 2));

const oscOverlay = {
  id: 'oscOverlay',
  afterDraw(chart) {
    const { ctx, chartArea, scales: { y } } = chart;
    ctx.save();
    ctx.fillStyle = '#111'; ctx.font = 'bold 12px ' + FONT;
    ctx.textAlign = 'left'; ctx.textBaseline = 'middle';
    ctx.fillText('Awesome Osc(34,5)', 7, 13);
    ctx.fillStyle = '#999'; ctx.font = '10px "DejaVu Sans"'; ctx.textAlign = 'right';
    ctx.fillText('\u21E7\u22A0', chartArea.right - 3, 10);
    ctx.strokeStyle = '#cfcfcf'; ctx.lineWidth = 2;
    ctx.beginPath(); ctx.moveTo(chartArea.right - 2, chartArea.top); ctx.lineTo(chartArea.right - 2, chartArea.bottom); ctx.stroke();
    drawTag(ctx, chartArea.right, y.getPixelForValue(oscTag[0]), oscTag[1], '#ffffff', '#333333');
    ctx.restore();
  }
};

new Chart(document.getElementById('osc'), {
  type: 'bar',
  data: { datasets: oscSets },
  options: {
    responsive: true, maintainAspectRatio: false, animation: false,
    layout: { padding: { left: 2, top: 2, right: 5, bottom: 2 } },
    plugins: { legend: { display: false }, tooltip: { enabled: false } },
    scales: {
      x: { type: 'linear', min: X_MIN, max: X_MAX, offset: false, display: false },
      y: {
        type: 'linear', position: 'right', min: OSC_MIN, max: OSC_MAX,
        afterBuildTicks: s => { s.ticks = [0.005, 0, -0.005, -0.01].map(v => ({ value: v })); },
        afterFit: s => { s.width = 56; },
        grid: { drawOnChartArea: false, drawTicks: true, tickLength: 4, color: '#333' },
        border: { display: true, color: '#333', width: 1 },
        ticks: { autoSkip: false, padding: 2, color: '#222', font: { size: 11 },
          callback: v => (v === 0 || v === -0.01 ? v.toFixed(5) : '') }
      }
    }
  },
  plugins: [oscOverlay]
});
</script>
</body>
</html>
